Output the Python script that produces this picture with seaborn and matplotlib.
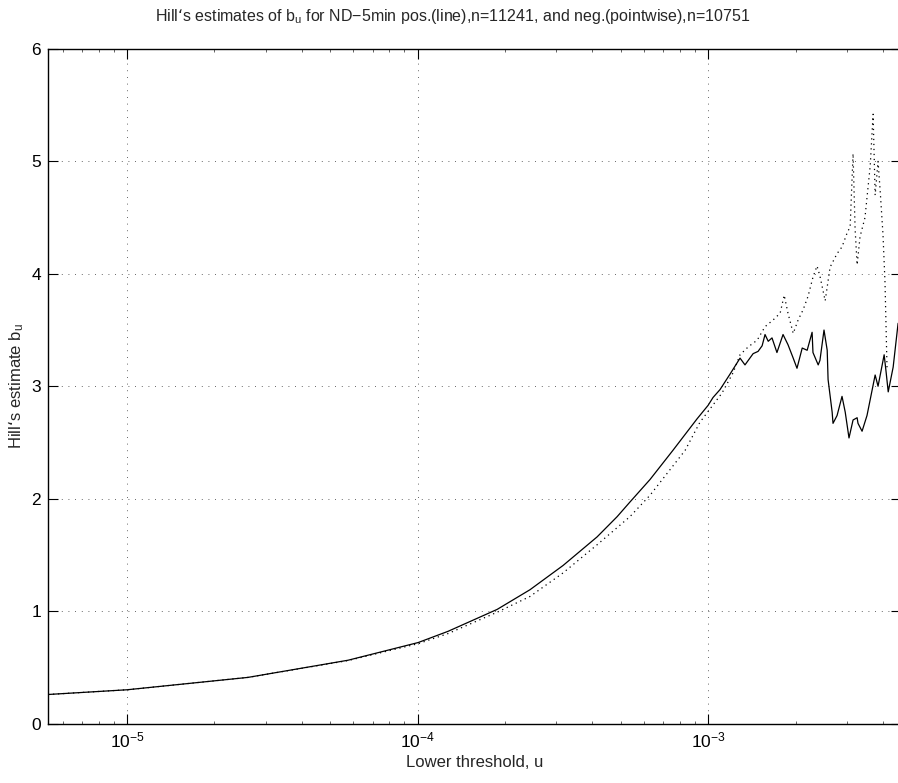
import numpy as np
import pandas as pd
import matplotlib
matplotlib.use("Agg")
import matplotlib.pyplot as plt
import seaborn as sns

# log10 of the lower threshold u, and Hill's estimate b_u
pos_log_u = [-5.272, -5.000, -4.584, -4.239, -3.998, -3.895, -3.726, -3.613,
             -3.499, -3.382, -3.313, -3.269, -3.200, -3.121, -3.038, -3.000,
             -2.983, -2.959, -2.924, -2.890, -2.873, -2.845, -2.828, -2.814,
             -2.804, -2.793, -2.780, -2.763, -2.742, -2.725, -2.707, -2.694,
             -2.676, -2.659, -2.642, -2.639, -2.621, -2.615, -2.601, -2.590,
             -2.587, -2.573, -2.570, -2.556, -2.539, -2.528, -2.515, -2.501,
             -2.487, -2.484, -2.470, -2.453, -2.425, -2.415, -2.394, -2.387,
             -2.380, -2.363, -2.346]
pos_b_u = [0.258, 0.30, 0.41, 0.563, 0.72, 0.82, 1.015, 1.19,
           1.406, 1.66, 1.84, 1.97, 2.17, 2.43, 2.71, 2.83,
           2.90, 2.97, 3.11, 3.25, 3.19, 3.29, 3.31, 3.36,
           3.46, 3.40, 3.43, 3.30, 3.46, 3.37, 3.25, 3.16,
           3.34, 3.32, 3.48, 3.30, 3.19, 3.23, 3.50, 3.32,
           3.06, 2.77, 2.67, 2.74, 2.91, 2.77, 2.54, 2.70,
           2.72, 2.67, 2.60, 2.74, 3.10, 3.00, 3.28, 3.12,
           2.95, 3.17, 3.56]

neg_log_u = [-5.272, -5.000, -4.584, -4.239, -3.998, -3.895, -3.726, -3.613,
             -3.499, -3.382, -3.269, -3.200, -3.079, -3.028, -2.952, -2.914,
             -2.890, -2.862, -2.831, -2.804, -2.776, -2.752, -2.738, -2.725,
             -2.707, -2.690, -2.673, -2.656, -2.639, -2.625, -2.615, -2.597,
             -2.580, -2.556, -2.539, -2.522, -2.511, -2.501, -2.494, -2.487,
             -2.477, -2.460, -2.442, -2.432, -2.425, -2.415, -2.408, -2.398,
             -2.391, -2.384]
neg_b_u = [0.258, 0.30, 0.41, 0.56, 0.71, 0.80, 0.99, 1.13,
           1.34, 1.59, 1.84, 2.03, 2.43, 2.68, 2.94, 3.12,
           3.28, 3.35, 3.41, 3.53, 3.59, 3.65, 3.81, 3.65,
           3.47, 3.59, 3.68, 3.80, 3.97, 4.07, 3.98, 3.76,
           4.06, 4.18, 4.24, 4.36, 4.42, 5.07, 4.40, 4.08,
           4.33, 4.50, 4.96, 5.42, 4.70, 5.00, 4.75, 4.35,
           3.92, 3.15]

y_ticks = [0, 1, 2, 3, 4, 5, 6]

sns.set_style("ticks", {"xtick.direction": "in", "ytick.direction": "in"})
plt.rcParams['font.family'] = ['Liberation Sans', 'DejaVu Sans']
plt.rcParams['mathtext.default'] = 'regular'

pos = pd.DataFrame({"u": 10 ** np.array(pos_log_u), "b": pos_b_u})
neg = pd.DataFrame({"u": 10 ** np.array(neg_log_u), "b": neg_b_u})

fig = plt.figure(figsize=(8.98, 7.83), dpi=100)
ax = fig.add_axes([48 / 898, 1 - 723.5 / 783, (901 - 48) / 898, (723.5 - 49) / 783])

sns.lineplot(data=pos, x="u", y="b", ax=ax, color="black", lw=0.9,
             sort=False, estimator=None)
sns.lineplot(data=neg, x="u", y="b", ax=ax, color="black", lw=0.9,
             sort=False, estimator=None, linestyle=(0, (1, 3)))

ax.set_xscale("log")
ax.set_xlim(10 ** -5.272, 10 ** -2.336)
ax.set_ylim(0, 6)
ax.set_yticks(y_ticks)
ax.grid(True, which="major", color="#333333", linestyle=(0, (1, 7)), lw=0.6)
ax.tick_params(which="major", length=7, width=0.8, labelsize=12.5,
               top=True, right=True, colors="black", pad=5)
ax.tick_params(which="minor", length=2, width=0.5, top=True, right=False)
for s in ax.spines.values():
    s.set_linewidth(1.0)
    s.set_color("black")

ax.set_title("Hill‘s estimates of b$_{u}$ for ND−5min pos.(line),n=11241, "
             "and neg.(pointwise),n=10751", fontsize=11.5, pad=20, x=0.474)
ax.set_xlabel("Lower threshold, u", fontsize=12, labelpad=3)
ax.set_ylabel("Hill‘s estimate b$_{u}$", fontsize=12, labelpad=4)

fig.savefig("out.png", dpi=100)
plt.close(fig)
